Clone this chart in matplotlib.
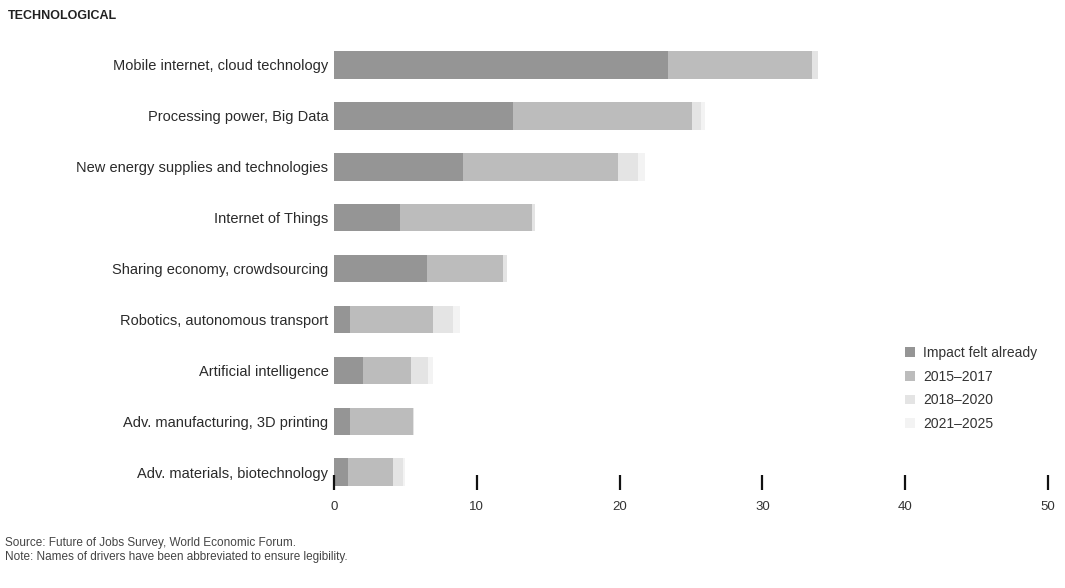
import matplotlib.pyplot as plt
import numpy as np

plt.rcParams['font.family'] = ['Liberation Sans', 'DejaVu Sans']

drivers = ['Mobile internet, cloud technology', 'Processing power, Big Data',
           'New energy supplies and technologies', 'Internet of Things',
           'Sharing economy, crowdsourcing', 'Robotics, autonomous transport',
           'Artificial intelligence', 'Adv. manufacturing, 3D printing',
           'Adv. materials, biotechnology']
periods = ['Impact felt already', '2015\u20132017', '2018\u20132020', '2021\u20132025']
felt_already = [23.4, 12.5, 9.0, 4.6, 6.5, 1.1, 2.0, 1.1, 1.0]
y2015_2017 = [10.1, 12.6, 10.9, 9.3, 5.3, 5.8, 3.4, 4.4, 3.1]
y2018_2020 = [0.4, 0.6, 1.4, 0.2, 0.3, 1.4, 1.2, 0.1, 0.7]
y2021_2025 = [0.0, 0.3, 0.5, 0.0, 0.0, 0.5, 0.3, 0.0, 0.2]
xticks = [0, 10, 20, 30, 40, 50]

colors = ['#959595', '#bcbcbc', '#e4e4e4', '#f3f3f3']

fig = plt.figure(figsize=(10.65, 5.88), dpi=100)
ax = fig.add_axes([0.3136, 0.1667, 0.6705, 0.7747])

y = np.arange(len(drivers))
left = np.zeros(len(drivers))
for vals, lab, c in zip([felt_already, y2015_2017, y2018_2020, y2021_2025], periods, colors):
    ax.barh(y, vals, 0.54, left=left, color=c, label=lab, edgecolor='none')
    left += np.array(vals)

ax.set_xlim(0, 50)
ax.set_ylim(8.35, -0.6)
ax.set_xticks(xticks)
ax.set_yticks(y)
ax.set_yticklabels(drivers, fontsize=10.5, color='#2a2a2a')
ax.tick_params(axis='y', length=0, pad=4)
ax.tick_params(axis='x', direction='in', length=11, width=1.6, color='#111111',
               labelsize=9.5, labelcolor='#333333', pad=8)
for s in ['top', 'right', 'left', 'bottom']:
    ax.spines[s].set_visible(False)

fig.text(0.007, 0.972, 'TECHNOLOGICAL', fontsize=9, fontweight='bold', color='#222222', va='center')

fig.legend(loc='upper left', bbox_to_anchor=(0.838, 0.433), frameon=False,
           handlelength=0.7, handleheight=0.7, handletextpad=0.6, labelspacing=0.7,
           fontsize=10, labelcolor='#333333')

fig.text(0.005, 0.077, 'Source: Future of Jobs Survey, World Economic Forum.', fontsize=8.5, color='#444444', va='center')
fig.text(0.005, 0.053, 'Note: Names of drivers have been abbreviated to ensure legibility.', fontsize=8.5, color='#444444', va='center')

plt.savefig('out.png', dpi=100)
